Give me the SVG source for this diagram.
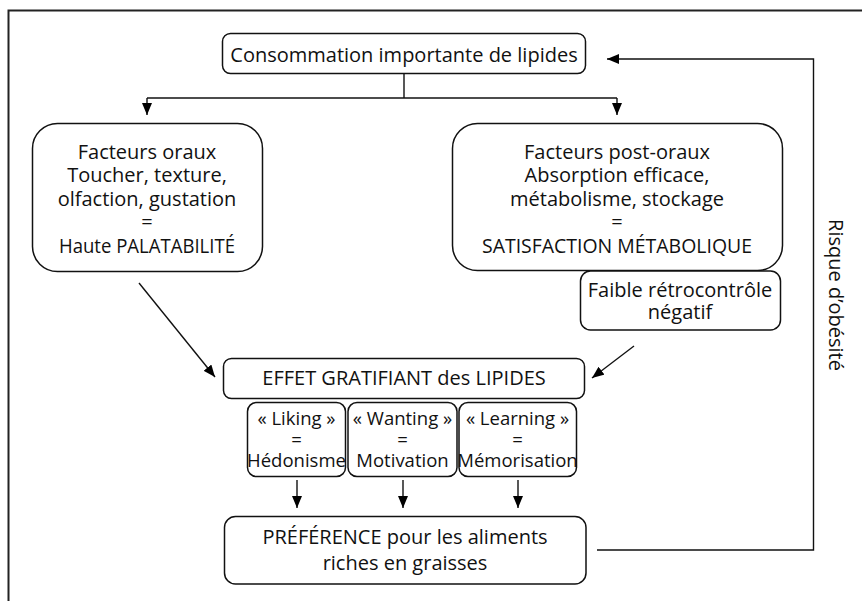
<svg xmlns="http://www.w3.org/2000/svg" width="862" height="601" viewBox="0 0 862 601">
<defs>
<marker id="ah" markerUnits="userSpaceOnUse" markerWidth="12" markerHeight="10" viewBox="0 0 12 10" refX="12" refY="5" orient="auto">
<path d="M0,0 L12,5 L0,10 Z" fill="#000"/>
</marker>
<style>
.box{fill:#fff;stroke:#111;stroke-width:1.5}
.t{font-family:"Open Sans","Noto Sans",sans-serif;font-size:20px;fill:#111;text-anchor:middle}
.s{font-size:18.5px}
.c{fill:none;stroke:#111;stroke-width:1.4}
.frame{fill:none;stroke:#222;stroke-width:2}
</style>
</defs>
<rect width="862" height="601" fill="#fff"/>
<path class="frame" d="M862,10.5 H8.5 V601"/>

<g id="connectors">
<path class="c" d="M404,73 V98"/>
<path class="c" d="M147,98 H617"/>
<path class="c" d="M147,98 V115" marker-end="url(#ah)"/>
<path class="c" d="M617,98 V115" marker-end="url(#ah)"/>
<path class="c" d="M139,283 L215,377" marker-end="url(#ah)"/>
<path class="c" d="M634,346 L592,378" marker-end="url(#ah)"/>
<path class="c" d="M297,480 V508" marker-end="url(#ah)"/>
<path class="c" d="M403,480 V508" marker-end="url(#ah)"/>
<path class="c" d="M518,480 V508" marker-end="url(#ah)"/>
<path class="c" d="M597,550 H813.5 V59 H607" marker-end="url(#ah)"/>
</g>

<g id="top">
<rect class="box" x="222.5" y="33.5" width="363" height="40" rx="8"/>
<text class="t" x="404" y="62">Consommation importante de lipides</text>
</g>

<g id="oraux">
<rect class="box" x="32.5" y="123.5" width="230" height="148" rx="25"/>
<text class="t" x="147" y="159">Facteurs oraux</text>
<text class="t" x="147" y="182">Toucher, texture,</text>
<text class="t" x="147" y="206">olfaction, gustation</text>
<text class="t" x="147" y="229">=</text>
<text class="t" x="147" y="253" textLength="176" lengthAdjust="spacingAndGlyphs">Haute PALATABILITÉ</text>
</g>

<g id="postoraux">
<rect class="box" x="452.5" y="123.5" width="330" height="147" rx="25"/>
<text class="t" x="617" y="159">Facteurs post-oraux</text>
<text class="t" x="617" y="182">Absorption efficace,</text>
<text class="t" x="617" y="206">métabolisme, stockage</text>
<text class="t" x="617" y="229">=</text>
<text class="t" x="617" y="253" textLength="270" lengthAdjust="spacingAndGlyphs">SATISFACTION MÉTABOLIQUE</text>
</g>

<g id="retro">
<rect class="box" x="580.5" y="271" width="200" height="59" rx="10"/>
<text class="t" x="680" y="297">Faible rétrocontrôle</text>
<text class="t" x="680" y="319">négatif</text>
</g>

<g id="effet">
<rect class="box" x="223.5" y="358.5" width="361" height="40" rx="8"/>
<text class="t" x="404" y="385">EFFET GRATIFIANT des LIPIDES</text>
</g>

<g id="liking">
<rect class="box" x="247.5" y="402.5" width="98" height="74" rx="9"/>
<text class="t s" x="296.5" y="425">« Liking »</text>
<text class="t s" x="296.5" y="446">=</text>
<text class="t s" x="296.5" y="467">Hédonisme</text>
</g>

<g id="wanting">
<rect class="box" x="348" y="402.5" width="109" height="74" rx="9"/>
<text class="t s" x="402.5" y="425">« Wanting »</text>
<text class="t s" x="402.5" y="446">=</text>
<text class="t s" x="402.5" y="467">Motivation</text>
</g>

<g id="learning">
<rect class="box" x="459" y="402.5" width="117.5" height="74" rx="9"/>
<text class="t s" x="517.5" y="425">« Learning »</text>
<text class="t s" x="517.5" y="446">=</text>
<text class="t s" x="517.5" y="467">Mémorisation</text>
</g>

<g id="preference">
<rect class="box" x="224.5" y="516.5" width="361.5" height="67.5" rx="11"/>
<text class="t" x="405" y="544">PRÉFÉRENCE pour les aliments</text>
<text class="t" x="405" y="570">riches en graisses</text>
</g>

<g id="risque">
<text class="t" transform="translate(829,295) rotate(90)">Risque d’obésité</text>
</g>
</svg>
